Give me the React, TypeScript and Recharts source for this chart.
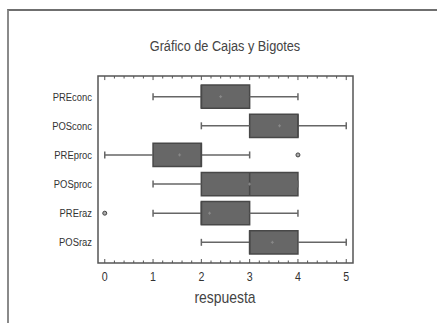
import {
  ScatterChart,
  Scatter,
  XAxis,
  YAxis,
  ReferenceArea,
  ReferenceLine,
} from "recharts";

// variables y resumen de cinco números
const categories = ["PREconc", "POSconc", "PREproc", "POSproc", "PREraz", "POSraz"];
const mins = [1, 2, 0, 1, 1, 2];
const q1s = [2, 3, 1, 2, 2, 3];
const medians = [2, 4, 2, 3, 2, 3];
const q3s = [3, 4, 2, 4, 3, 4];
const maxs = [4, 5, 3, 4, 4, 5];
const means = [2.4, 3.62, 1.55, 3.0, 2.17, 3.47];
const outlierCats = [2, 4];
const outlierValues = [4, 0];

const majorTicks = [0, 1, 2, 3, 4, 5];
const minorTicks = [
  0, 0.2, 0.4, 0.6, 0.8, 1, 1.2, 1.4, 1.6, 1.8, 2, 2.2, 2.4, 2.6, 2.8, 3,
  3.2, 3.4, 3.6, 3.8, 4, 4.2, 4.4, 4.6, 4.8, 5,
];
const catTicks = [0, 1, 2, 3, 4, 5];

const X_DOMAIN = [-0.14, 5.14];
const Y_DOMAIN = [-0.71, 5.71];

const meanData = means.map((m, i) => ({ x: m, y: i }));
const outlierData = outlierValues.map((v, i) => ({ x: v, y: outlierCats[i] }));

const FONT = "'Liberation Sans', Arial, sans-serif";
const NARROW = 0.82;
const AXIS = "#555";

const BottomTick = (props: any) => {
  const { x, y, payload } = props;
  const major = majorTicks.includes(payload.value);
  return (
    <g>
      <line x1={x} x2={x} y1={y} y2={y - (major ? 4 : 2.5)} stroke={AXIS} strokeWidth={1} />
      {major && (
        <text
          transform={`translate(${x} ${y + 18}) scale(${NARROW} 1)`}
          textAnchor="middle"
          fontSize={13}
          fill="#333"
          fontFamily={FONT}
        >
          {payload.value}
        </text>
      )}
    </g>
  );
};

const CatTick = (props: any) => {
  const { x, y, payload } = props;
  return (
    <text
      transform={`translate(${x} ${y + 4}) scale(${NARROW} 1)`}
      textAnchor="end"
      fontSize={11.5}
      fill="#333"
      fontFamily={FONT}
    >
      {categories[payload.value] ?? ""}
    </text>
  );
};

const MeanMark = (props: any) => {
  const { cx, cy } = props;
  return (
    <g stroke="#8a8a8a" strokeWidth={1}>
      <line x1={cx - 1.5} x2={cx + 1.5} y1={cy} y2={cy} />
      <line x1={cx} x2={cx} y1={cy - 1.5} y2={cy + 1.5} />
    </g>
  );
};

const OutlierMark = (props: any) => {
  const { cx, cy } = props;
  return <circle cx={cx} cy={cy} r={2} fill="#aaa" stroke="#444" strokeWidth={1} />;
};

const textStyle = (top: number, size: number) => ({
  position: "absolute" as const,
  left: 0,
  width: 450,
  top,
  textAlign: "center" as const,
  fontFamily: FONT,
  fontSize: size,
  color: "#444",
  transform: `scaleX(${NARROW})`,
});

export default function App() {
  return (
    <div style={{ position: "fixed", left: 0, top: 0, width: 437, height: 323, background: "#fff" }}>
      <div
        style={{
          position: "absolute",
          left: 7,
          top: 9,
          right: 0,
          bottom: 0,
          borderTop: "2px solid #6f6f6f",
          borderLeft: "2px solid #8a8a8a",
        }}
      />
      <div style={textStyle(37, 15.5)}>Gráfico de Cajas y Bigotes</div>
      <div style={textStyle(288, 17)}>respuesta</div>
      <ScatterChart
        width={437}
        height={323}
        margin={{ top: 76, right: 84, bottom: 0, left: 8 }}
        style={{ position: "absolute", left: 0, top: 0 }}
      >
        <XAxis
          dataKey="x"
          type="number"
          domain={X_DOMAIN}
          ticks={minorTicks}
          interval={0}
          allowDataOverflow
          height={60}
          tickSize={0}
          tickMargin={0}
          tickLine={false}
          tick={<BottomTick />}
          axisLine={false}
        />
        <YAxis
          dataKey="y"
          type="number"
          domain={Y_DOMAIN}
          reversed
          allowDataOverflow
          ticks={catTicks}
          interval={0}
          width={90}
          tickSize={0}
          tickMargin={6}
          tickLine={false}
          tick={<CatTick />}
          axisLine={false}
        />
        {/* marco del área de trazado */}
        <ReferenceArea
          x1={X_DOMAIN[0]}
          x2={X_DOMAIN[1]}
          y1={Y_DOMAIN[0]}
          y2={Y_DOMAIN[1]}
          fill="none"
          stroke={AXIS}
          strokeWidth={1.5}
          ifOverflow="visible"
        />
        {/* marcas del eje superior */}
        {minorTicks.map((t) => (
          <ReferenceLine
            key={"tt" + t}
            segment={[
              { x: t, y: Y_DOMAIN[0] },
              { x: t, y: Y_DOMAIN[0] + (majorTicks.includes(t) ? 0.14 : 0.086) },
            ]}
            stroke={AXIS}
            strokeWidth={1}
          />
        ))}
        {categories.map((c, i) => (
          <ReferenceLine
            key={"wl" + c}
            segment={[{ x: mins[i], y: i }, { x: q1s[i], y: i }]}
            stroke="#666"
            strokeWidth={1.5}
          />
        ))}
        {categories.map((c, i) => (
          <ReferenceLine
            key={"wr" + c}
            segment={[{ x: q3s[i], y: i }, { x: maxs[i], y: i }]}
            stroke="#666"
            strokeWidth={1.5}
          />
        ))}
        {categories.map((c, i) => (
          <ReferenceLine
            key={"cl" + c}
            segment={[{ x: mins[i], y: i - 0.12 }, { x: mins[i], y: i + 0.12 }]}
            stroke="#666"
            strokeWidth={1.5}
          />
        ))}
        {categories.map((c, i) => (
          <ReferenceLine
            key={"cr" + c}
            segment={[{ x: maxs[i], y: i - 0.12 }, { x: maxs[i], y: i + 0.12 }]}
            stroke="#666"
            strokeWidth={1.5}
          />
        ))}
        {categories.map((c, i) => (
          <ReferenceArea
            key={"box" + c}
            x1={q1s[i]}
            x2={q3s[i]}
            y1={i - 0.4}
            y2={i + 0.4}
            fill="#676767"
            fillOpacity={1}
            stroke="#484848"
            strokeWidth={1.5}
          />
        ))}
        {categories.map((c, i) => (
          <ReferenceLine
            key={"med" + c}
            segment={[{ x: medians[i], y: i - 0.4 }, { x: medians[i], y: i + 0.4 }]}
            stroke="#484848"
            strokeWidth={1.5}
          />
        ))}
        <Scatter data={meanData} shape={<MeanMark />} isAnimationActive={false} />
        <Scatter data={outlierData} shape={<OutlierMark />} isAnimationActive={false} />
      </ScatterChart>
    </div>
  );
}
